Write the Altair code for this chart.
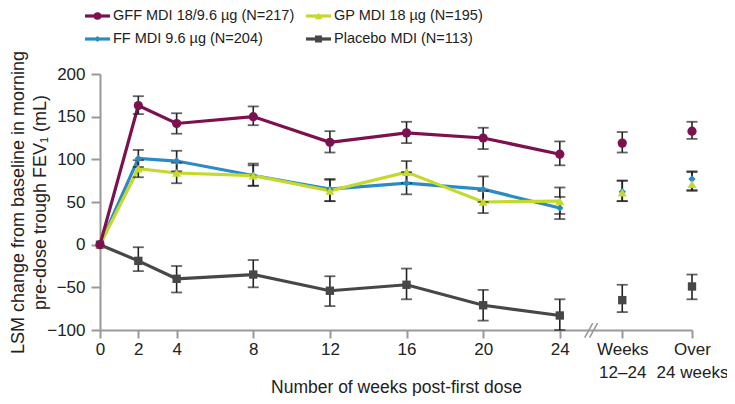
import altair as alt
import pandas as pd

# ---------------- data ----------------
weeks = [0, 2, 4, 8, 12, 16, 20, 24]
summary_pos = [27.26, 30.9]  # "Weeks 12–24", "Over 24 weeks"

series_names = ["GFF MDI 18/9.6 µg (N=217)", "FF MDI 9.6 µg (N=204)",
                "GP MDI 18 µg (N=195)", "Placebo MDI (N=113)"]

gff_mean = [0, 163, 142, 150, 120, 131, 125, 106]
gff_lo = [None, 153, 130, 140, 108, 119, 112, 93]
gff_hi = [None, 174, 154, 162, 133, 144, 137, 121]
gff_sum = [119, 133]
gff_sum_lo = [108, 124]
gff_sum_hi = [132, 144]

ff_mean = [0, 101, 98, 81, 65, 72, 65, 43]
ff_lo = [None, 91, 86, 69, 51, 59, 50, 30]
ff_hi = [None, 111, 110, 95, 77, 85, 80, 56]
ff_sum = [62, 77]
ff_sum_lo = [51, 64]
ff_sum_hi = [75, 86]

gp_mean = [0, 89, 84, 81, 63, 85, 50, 51]
gp_lo = [None, 79, 72, 69, 51, 72, 37, 36]
gp_hi = [None, 99, 96, 93, 76, 98, 63, 67]
gp_sum = [61, 71]
gp_sum_lo = [51, 63]
gp_sum_hi = [75, 85]

pbo_mean = [0, -19, -40, -35, -54, -47, -71, -83]
pbo_lo = [None, -31, -56, -50, -72, -64, -89, -100]
pbo_hi = [None, -3, -25, -18, -37, -28, -53, -64]
pbo_sum = [-65, -49]
pbo_sum_lo = [-79, -64]
pbo_sum_hi = [-47, -35]

colors = ["#7d1150", "#2b8cc4", "#c5d92d", "#474747"]
shapes = ["circle", "diamond", "triangle-up", "square"]
sizes = [85, 55, 80, 70]

x_ticks = [0, 2, 4, 8, 12, 16, 20, 24] + summary_pos
y_ticks = [-100, -50, 0, 50, 100, 150, 200]
break_x = [25.3, 25.55]

# ---------------- build tables ----------------
all_series = [
    (gff_mean, gff_lo, gff_hi, gff_sum, gff_sum_lo, gff_sum_hi),
    (ff_mean, ff_lo, ff_hi, ff_sum, ff_sum_lo, ff_sum_hi),
    (gp_mean, gp_lo, gp_hi, gp_sum, gp_sum_lo, gp_sum_hi),
    (pbo_mean, pbo_lo, pbo_hi, pbo_sum, pbo_sum_lo, pbo_sum_hi),
]

X = alt.Scale(domain=[0, 30.9], nice=False, zero=False)
Y = alt.Scale(domain=[-100, 200], nice=False)

xaxis = alt.Axis(
    values=x_ticks,
    labelExpr="datum.value > 29 ? ['Over', '24 weeks'] : (datum.value > 26 ? ['Weeks', '12–24'] : datum.label)",
    title="Number of weeks post-first dose",
    grid=False,
)
yaxis = alt.Axis(
    values=y_ticks,
    labelExpr="replace(datum.label, '-', '−')",
    title=["LSM change from baseline in morning", "pre-dose trough FEV₁ (mL)"],
    grid=False,
)

order = [3, 1, 2, 0]  # drawing order: placebo, FF, GP, GFF on top
line_layers, err_layers, pt_layers = [], [], []
for i in order:
    mean, lo, hi, sm, slo, shi = all_series[i]
    line_df = pd.DataFrame({"x": weeks, "y": mean})
    pt_df = pd.DataFrame({"x": weeks + summary_pos, "y": mean + sm})
    err_df = pd.DataFrame({"x": weeks[1:] + summary_pos,
                           "lo": lo[1:] + slo, "hi": hi[1:] + shi})
    line_layers.append(
        alt.Chart(line_df).mark_line(color=colors[i], strokeWidth=3.2).encode(
            x=alt.X("x:Q", scale=X, axis=xaxis),
            y=alt.Y("y:Q", scale=Y, axis=yaxis),
        )
    )
    err_layers.append(
        alt.Chart(err_df).mark_rule(color="#222222", strokeWidth=1.6).encode(
            x=alt.X("x:Q", scale=X), y=alt.Y("lo:Q", scale=Y), y2="hi:Q")
    )
    for col in ["lo", "hi"]:
        err_layers.append(
            alt.Chart(err_df).mark_tick(color="#222222", orient="horizontal",
                                        size=11, thickness=1.8).encode(
                x=alt.X("x:Q", scale=X), y=alt.Y(f"{col}:Q", scale=Y))
        )
    pt_layers.append(
        alt.Chart(pt_df).mark_point(filled=True, opacity=1, color=colors[i],
                                    shape=shapes[i], size=sizes[i]).encode(
            x=alt.X("x:Q", scale=X), y=alt.Y("y:Q", scale=Y))
    )

# axis break marks
brk_df = pd.DataFrame({"x": break_x, "x2": [b + 0.42 for b in break_x]})
brk = alt.Chart(brk_df).mark_rule(color="#999999", strokeWidth=1.6).encode(
    x=alt.X("x:Q", scale=X), x2="x2:Q",
    y=alt.datum(-109, scale=Y), y2=alt.datum(-92),
)

# manual legend (pixel positions relative to plot origin)
leg_x = [-15, -15, 206, 206]
leg_y = [-58, -35, -58, -35]
leg_idx = [0, 1, 2, 3]
leg_layers = []
for k, i in enumerate(leg_idx):
    d = pd.DataFrame({"a": [leg_x[k]], "b": [leg_x[k] + 25], "c": [leg_x[k] + 12.5],
                      "t": [leg_x[k] + 28], "y": [leg_y[k]], "lab": [series_names[i]]})
    leg_layers.append(alt.Chart(d).mark_rule(color=colors[i], strokeWidth=3.2).encode(
        x=alt.X("a:Q", scale=None), x2="b:Q", y=alt.Y("y:Q", scale=None)))
    leg_layers.append(alt.Chart(d).mark_point(filled=True, opacity=1, color=colors[i],
                                              shape=shapes[i], size=sizes[i] * 0.7).encode(
        x=alt.X("c:Q", scale=None), y=alt.Y("y:Q", scale=None)))
    leg_layers.append(alt.Chart(d).mark_text(align="left", baseline="middle", fontSize=14.5,
                                             font="Liberation Sans", color="#222222").encode(
        x=alt.X("t:Q", scale=None), y=alt.Y("y:Q", scale=None), text="lab:N"))

chart = alt.layer(*line_layers, *err_layers, *pt_layers, brk, *leg_layers).properties(
    width=592, height=256,
    autosize=alt.AutoSizeParams(type="none"),
    padding={"left": 92, "top": 66, "right": 35, "bottom": 66},
).configure_view(stroke=None, clip=False).configure_axis(
    domainColor="#999999", domainWidth=2, tickColor="#999999", tickWidth=2,
    labelFont="Liberation Sans", labelFontSize=17, labelColor="#222222",
    titleFont="Liberation Sans", titleFontSize=17, titleFontWeight="normal",
    titleColor="#222222",
).configure_axisX(
    tickSize=8, labelPadding=3, labelLineHeight=23, labelBaseline="top",
    titleX=296, titleY=57, titleBaseline="middle", titleFontSize=17.5,
    labelFlush=False, labelOverlap=False,
).configure_axisY(
    tickSize=9, labelPadding=6, titleX=-82, titleY=128, titleBaseline="middle",
    titleLineHeight=22, titleFontSize=18,
)

chart.save("out.html", embed_options={"renderer": "svg", "actions": False})
